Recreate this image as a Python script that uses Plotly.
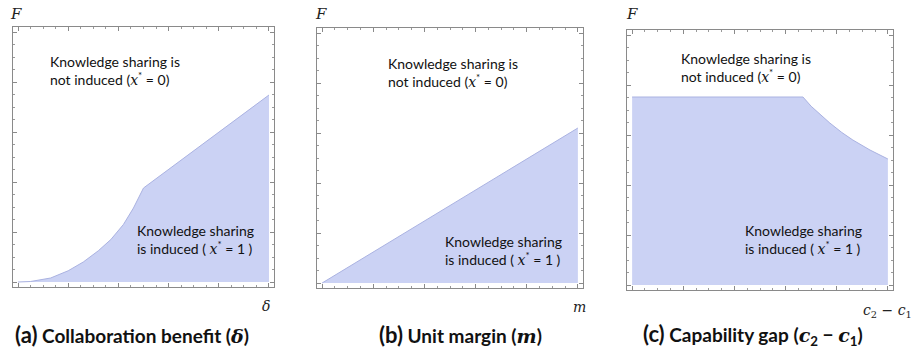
import plotly.graph_objects as go

# Boundary F(.) between the regions where knowledge sharing is / is not induced
a_x = [0.0, 0.05, 0.13, 0.2, 0.26, 0.32, 0.37, 0.42, 0.46, 0.5, 1.0]
a_y = [0.0, 0.002, 0.016, 0.045, 0.08, 0.125, 0.17, 0.23, 0.296, 0.376, 0.748]

b_x = [0.0, 1.0]
b_y = [0.0, 0.62]

c_x = [0.0, 0.668, 0.70, 0.773, 0.82, 0.863, 0.93, 1.0]
c_y = [0.752, 0.752, 0.715, 0.648, 0.61, 0.58, 0.54, 0.504]

captions = ["Collaboration benefit", "Unit margin", "Capability gap"]
letters = ["(a)", "(b)", "(c)"]

W, H = 920, 352
FILL = "rgb(203,210,244)"
EDGE = "rgb(170,178,225)"
SERIF = "DejaVu Serif"
SANS = "Lato"


def px(x):
    return x / W


def py(y):
    return 1 - y / H


# panel frames in pixels: (left, right, top, bottom)
frames = [(13, 274, 27, 287), (317, 583, 28, 288), (627, 893, 30, 290)]
series = [(a_x, a_y), (b_x, b_y), (c_x, c_y)]

fig = go.Figure()
layout = dict(
    width=W, height=H, margin=dict(l=0, r=0, t=0, b=0),
    paper_bgcolor="white", plot_bgcolor="white", showlegend=False,
)

for i, ((l, r, t, b), (xs, ys)) in enumerate(zip(frames, series)):
    n = "" if i == 0 else str(i + 1)
    fig.add_trace(go.Scatter(
        x=xs, y=ys, mode="lines", fill="tozeroy", fillcolor=FILL,
        line=dict(color=EDGE, width=1), xaxis="x" + n, yaxis="y" + n,
        hoverinfo="skip",
    ))
    axis_common = dict(
        showgrid=False, zeroline=False, showticklabels=False,
        showline=True, linecolor="#8a8a8a", linewidth=1, mirror="ticks",
        ticks="inside", ticklen=4, tickcolor="#8a8a8a", dtick=0.2, tick0=0,
        minor=dict(ticks="inside", ticklen=2, dtick=0.05, tickcolor="#9a9a9a"),
        range=[-0.02, 1.02], fixedrange=True,
    )
    layout["xaxis" + n] = dict(axis_common, domain=[px(l), px(r)],
                               anchor="y" + n)
    layout["yaxis" + n] = dict(axis_common, domain=[py(b), py(t)],
                               anchor="x" + n)

fig.update_layout(**layout)


def mx(s, bold=False):
    inner = f"<b>{s}</b>" if bold else s
    return f"<span style=\"font-family:{SERIF}\"><i>{inner}</i></span>"


def note(text, x, y, size, family=SANS, xanchor="left", color="#111"):
    fig.add_annotation(x=px(x), y=py(y), xref="paper", yref="paper",
                       text=text, showarrow=False, xanchor=xanchor,
                       yanchor="middle", align="left",
                       font=dict(family=family, size=size, color=color))


# region labels
top_text = "Knowledge sharing is<br>not induced (" + mx("x") + "<sup>*</sup> = 0)"
bot_text = "Knowledge sharing<br>is induced ( " + mx("x") + "<sup>*</sup> = 1 )"
for (x, y) in [(48, 71), (386, 72), (679, 68)]:
    note(top_text, x, y, 14)
for (x, y) in [(135, 239), (443, 250), (743, 240)]:
    note(bot_text, x, y, 14)

# axis symbols
for x in [8, 313, 624]:
    note("<i>F</i>", x, 14, 15, family=SERIF, color="#222")
note("<i>δ</i>", 272, 306, 14, family=SERIF, xanchor="right", color="#222")
note("<i>m</i>", 588, 307, 14, family=SERIF, xanchor="right", color="#222")
note("<i>c</i><sub>2</sub> − <i>c</i><sub>1</sub>", 914, 311, 14,
     family=SERIF, xanchor="right", color="#222")

# panel captions
cap_math = [mx("δ", True), mx("m", True),
            mx("c", True) + "<sub><b>2</b></sub><b> − </b>" + mx("c", True)
            + "<sub><b>1</b></sub>"]
cap_left = [13, 377, 641]
for letter, cap, m, x in zip(letters, captions, cap_math, cap_left):
    txt = (f"<b><span style=\"font-size:22px\">{letter}</span> "
           f"{cap} (</b>{m}<b>)</b>")
    note(txt, x, 334, 19)

fig.write_html("out.html")
